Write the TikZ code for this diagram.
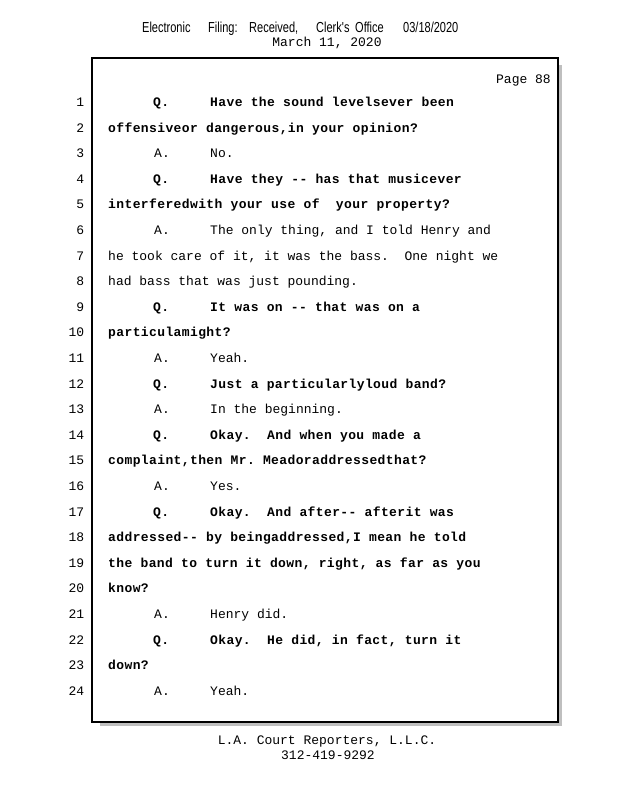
\documentclass[tikz,border=0pt]{standalone}
\usepackage{fontspec}
\newfontfamily\courtmono{Liberation Mono}
\newfontfamily\courtmonoq[LetterSpace=3]{Liberation Mono}
\newfontfamily\hdrsans[FakeStretch=0.76]{Liberation Sans}
\newcommand\plaintxt{\fontsize{13}{15}\selectfont\courtmono}
\newcommand\boldtxt{\fontsize{13}{15}\selectfont\courtmonoq\bfseries}
\frenchspacing
\begin{document}
\begin{tikzpicture}[x=1pt,y=-1pt,
  lnum/.style={anchor=base east,inner sep=0pt,font=\plaintxt},
  ptxt/.style={anchor=base west,inner sep=0pt,font=\plaintxt},
  btxt/.style={anchor=base west,inner sep=0pt,font=\boldtxt},
  hdr/.style={anchor=base west,inner sep=0pt,font=\fontsize{14.5}{16}\selectfont\hdrsans}]
\useasboundingbox (0,0) rectangle (618,800);
% page frame with its shadow
\fill[black!25] (100,65) rectangle (562,726);
\draw[fill=white,line width=1.3pt] (92,58) rectangle (558,722);
% header
\foreach \x/\w [count=\k] in {142/Electronic,208/Filing:,249/{Received,},316/Clerk's,355/Office,403/{03/18/2020}}
  \node[hdr] (hdr\k) at (\x,33) {\w};
\node[anchor=base,inner sep=0pt,font=\plaintxt] (date) at (327,46.5) {March 11, 2020};
\node[anchor=base east,inner sep=0pt,font=\plaintxt] (page) at (551,84) {Page 88};
% line numbers
\foreach \i in {1,...,24}
  \node[lnum] (n\i) at (84.5,{106.5+(\i-1)*25.6}) {\i};
% questions
\foreach \i/\t in {1/Have the sound levelsever been,
    4/Have they -{}- has that musicever,
    9/It was on -{}- that was on a,
    12/Just a particularlyloud band?,
    14/Okay.\ \ And when you made a,
    17/Okay.\ \ And after-{}- afterit was,
    22/{Okay.\ \ He did, in fact, turn it}} {
  \node[btxt] (s\i) at (153,{106.5+(\i-1)*25.6}) {Q.};
  \node[btxt] (t\i) at (210,{106.5+(\i-1)*25.6}) {\t};
}
% answers
\foreach \i/\t in {3/No., 6/{The only thing, and I told Henry and}, 11/Yeah.,
    13/In the beginning., 16/Yes., 21/Henry did., 24/Yeah.} {
  \node[ptxt] (s\i) at (154,{106.5+(\i-1)*25.6}) {A.};
  \node[ptxt] (t\i) at (210,{106.5+(\i-1)*25.6}) {\t};
}
% run-on lines
\foreach \i/\t in {2/{offensiveor dangerous,in your opinion?},
    5/interferedwith your use of\ \ your property?,
    10/particulamight?,
    15/{complaint,then Mr. Meadoraddressedthat?},
    18/{addressed-{}- by beingaddressed,I mean he told},
    19/{the band to turn it down, right, as far as you},
    20/know?, 23/down?}
  \node[btxt] (t\i) at (108,{106.5+(\i-1)*25.6}) {\t};
\foreach \i/\t in {7/{he took care of it, it was the bass.\ \ One night we},
    8/had bass that was just pounding.}
  \node[ptxt] (t\i) at (108,{106.5+(\i-1)*25.6}) {\t};
% footer
\node[anchor=base,inner sep=0pt,font=\plaintxt] (firm) at (327,744) {L.A. Court Reporters, L.L.C.};
\node[anchor=base,inner sep=0pt,font=\plaintxt] (phone) at (328,759) {312-419-9292};
\end{tikzpicture}
\end{document}
